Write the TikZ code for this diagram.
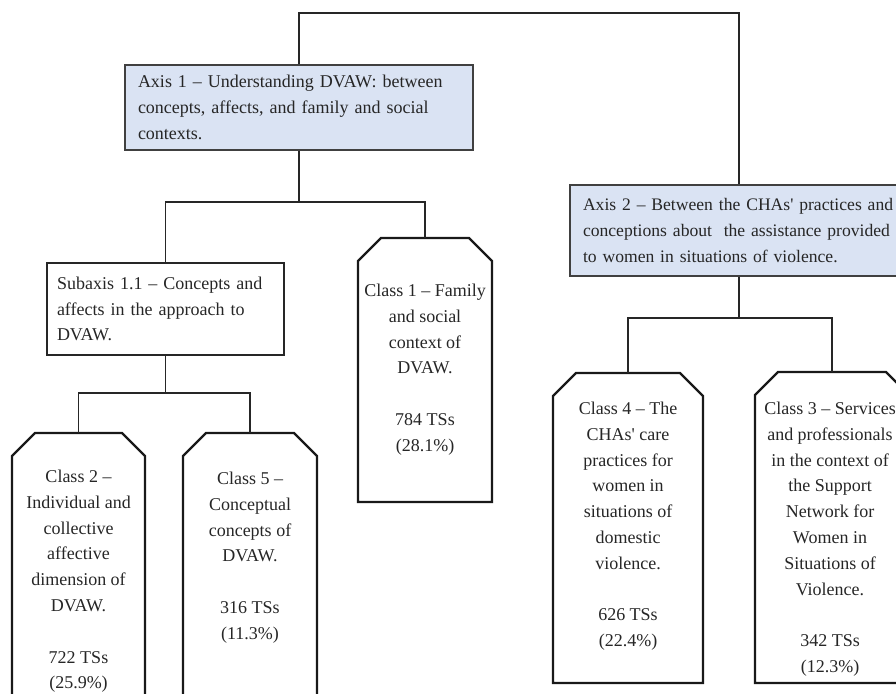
\documentclass[tikz,border=0pt]{standalone}
\usepackage{fontspec}
\setmainfont{Liberation Serif}
\usetikzlibrary{shapes, shapes.misc}
\usetikzlibrary{positioning}

\definecolor{axisblue}{RGB}{218,227,243}

\begin{document}
\begin{tikzpicture}[x = 1pt, y = -1pt, black!85, line width = 1.3pt,
    txt/.style = {font = \fontsize{18}{25.8}\selectfont},
    axisbox/.style = {txt, draw = black!75, fill = axisblue, align = left,
        inner xsep = 13pt, minimum width = #1},
    subbox/.style = {txt, draw, align = left, inner xsep = 10pt, minimum width = 237pt, minimum height = 92pt},
    classbox/.style = {anchor = north, inner sep = 0pt, outer sep = 0pt},
    classline/.style = {line width = 2.2pt, black!90},
    classtext/.style = {txt, align = center, inner sep = 0pt, outer sep = 0pt}]

    \useasboundingbox (0,0) rectangle (896,693);
    \clip (0,0) rectangle (896,693);

    \def\chamf{23pt}

    % axes
    \node[axisbox = 348pt, text width = 322pt, minimum height = 85pt] (ax1) at (299,107.5)
        {Axis 1 -- Understanding DVAW: between\\concepts, affects, and family and social\\contexts.};
    \node[axisbox = 334pt, text width = 312pt, minimum height = 91pt,
          font = \fontsize{17.6}{25.8}\selectfont] (ax2) at (739,230.5)
        {\mbox{Axis 2 -- Between the CHAs\textquotesingle{} practices and}\\
         \mbox{conceptions about\ \ the assistance provided}\\
         to women in situations of violence.};

    \node[subbox, text width = 217pt] (sub) at (165.5,309)
        {Subaxis 1.1 -- Concepts and\\affects in the approach to\\DVAW.};

    % classes
    \node[classbox, minimum width = 134pt, minimum height = 264pt] (c1) at (425,238) {};
    \node[classbox, minimum width = 133pt, minimum height = 290pt] (c2) at (78.5,433) {};
    \node[classbox, minimum width = 134pt, minimum height = 290pt] (c5) at (250,433) {};
    \node[classbox, minimum width = 150pt, minimum height = 310pt] (c4) at (628,373) {};
    \node[classbox, minimum width = 154pt, minimum height = 311pt] (c3) at (832,372) {};

    \foreach \c in {c1, c2, c3, c4, c5}
        \draw[classline] (\c.south west) -- ([yshift = -\chamf]\c.north west)
            -- ([xshift = \chamf]\c.north west) -- ([xshift = -\chamf]\c.north east)
            -- ([yshift = -\chamf]\c.north east) -- (\c.south east) -- cycle;

    \node[classtext, below = 46pt of c1.north] (t1)
        {Class 1 -- Family\\and social\\context of\\DVAW.\\[25.8pt]784 TSs\\(28.1\%)};
    \node[classtext, below = 37pt of c2.north] (t2)
        {Class 2 --\\Individual and\\collective\\affective\\dimension of\\DVAW.\\[25.8pt]722 TSs\\(25.9\%)};
    \node[classtext, below = 39pt of c5.north] (t5)
        {Class 5 --\\Conceptual\\concepts of\\DVAW.\\[25.8pt]316 TSs\\(11.3\%)};
    \node[classtext, below = 29pt of c4.north] (t4)
        {Class 4 -- The\\CHAs\textquotesingle{} care\\practices for\\women in\\situations of\\domestic\\violence.\\[25.8pt]626 TSs\\(22.4\%)};
    \node[classtext, below = 30pt of c3.north, xshift = -2pt] (t3)
        {Class 3 -- Services\\and professionals\\in the context of\\the Support\\Network for\\Women in\\Situations of\\Violence.\\[25.8pt]342 TSs\\(12.3\%)};

    % connectors
    \coordinate (top) at (518,13);
    \coordinate (bus1) at (299,202);
    \coordinate (bus2) at (165.5,393);
    \coordinate (bus3) at (739,318);

    \draw (ax1.north) |- (top) -| (ax2.north);
    \draw (ax1.south) -- (bus1);
    \draw (sub.north) |- (bus1) -| (c1.north);
    \draw (sub.south) -- (bus2);
    \draw (c2.north) |- (bus2) -| (c5.north);
    \draw (ax2.south) -- (bus3);
    \draw (c4.north) |- (bus3) -| (c3.north);

\end{tikzpicture}
\end{document}
